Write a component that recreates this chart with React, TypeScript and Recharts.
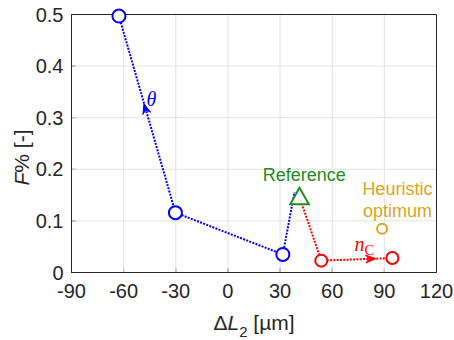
import React from 'react';
import { ScatterChart, Scatter, XAxis, YAxis } from 'recharts';

// ---- data ----
const X_TICKS = [-90, -60, -30, 0, 30, 60, 90, 120];
const Y_TICKS = [0, 0.1, 0.2, 0.3, 0.4, 0.5];
const X_DOMAIN = [-90, 120];
const Y_DOMAIN = [0, 0.5];

const thetaMarkers = [
  { x: -62.7, y: 0.497 },
  { x: -30.2, y: 0.116 },
  { x: 31.6, y: 0.035 },
];
const thetaPath = [
  { x: -62.7, y: 0.497 },
  { x: -30.2, y: 0.116 },
  { x: 31.6, y: 0.035 },
  { x: 38.3, y: 0.156 },
];
const referencePoint = [{ x: 41.2, y: 0.146 }];
const ncMarkers = [
  { x: 53.7, y: 0.023 },
  { x: 94.6, y: 0.028 },
];
const ncPath = [
  { x: 41.2, y: 0.146 },
  { x: 53.7, y: 0.023 },
  { x: 94.6, y: 0.028 },
];
const heuristicPoint = [{ x: 88.7, y: 0.085 }];
const thetaArrow = [
  { x: -30.2, y: 0.116 },
  { x: -48.3, y: 0.327 },
];
const ncArrow = [
  { x: 53.7, y: 0.023 },
  { x: 85.0, y: 0.0268 },
];
const referenceText = [{ x: 43.9, y: 0.19, label: 'Reference' }];
const heuristicText = [
  { x: 97.5, y: 0.163, label: 'Heuristic' },
  { x: 97.5, y: 0.12, label: 'optimum' },
];
const thetaText = [{ x: -44.0, y: 0.337, label: 'θ' }];
const ncText = [{ x: 78.5, y: 0.055, label: 'n', sub: 'C' }];

// grid and frame segments built from the tick arrays / domains
const gridSegments = [
  ...X_TICKS.slice(1, -1).map((t) => [
    { x: t, y: Y_DOMAIN[0] },
    { x: t, y: Y_DOMAIN[1] },
  ]),
  ...Y_TICKS.slice(1, -1).map((t) => [
    { x: X_DOMAIN[0], y: t },
    { x: X_DOMAIN[1], y: t },
  ]),
];
const frameSegments = [
  [
    { x: X_DOMAIN[0], y: Y_DOMAIN[0] },
    { x: X_DOMAIN[0], y: Y_DOMAIN[1] },
  ],
  [
    { x: X_DOMAIN[0], y: Y_DOMAIN[1] },
    { x: X_DOMAIN[1], y: Y_DOMAIN[1] },
  ],
  [
    { x: X_DOMAIN[1], y: Y_DOMAIN[1] },
    { x: X_DOMAIN[1], y: Y_DOMAIN[0] },
  ],
  [
    { x: X_DOMAIN[0], y: Y_DOMAIN[0] },
    { x: X_DOMAIN[1], y: Y_DOMAIN[0] },
  ],
];

// ---- styles ----
const BLUE = '#0000ff';
const RED = '#ff0000';
const GREEN = '#228b22';
const GOLD = '#daa520';
const AXIS = '#262626';
const GRID = '#e3e3e3';
const SANS = 'Liberation Sans, Arial, sans-serif';
const SERIF = 'Liberation Serif, DejaVu Serif, serif';
const DOT = '2 1.3';

const hidden = () => <g />;

const openCircle = (r: number, color: string) => (p: any) => (
  <circle cx={p.cx} cy={p.cy} r={r} fill="#ffffff" stroke={color} strokeWidth={2} />
);

const triangle = (p: any) => (
  <polygon
    points={`${p.cx},${p.cy - 9.5} ${p.cx + 9.3},${p.cy + 7} ${p.cx - 9.3},${p.cy + 7}`}
    fill="#ffffff"
    stroke={GREEN}
    strokeWidth={2}
    strokeLinejoin="miter"
  />
);

const arrowHead = (color: string) => (props: any) => {
  const pts = props.points || [];
  if (pts.length < 2) return <g />;
  const a = pts[0];
  const b = pts[pts.length - 1];
  const dx = b.x - a.x;
  const dy = b.y - a.y;
  const len = Math.hypot(dx, dy) || 1;
  const ux = dx / len;
  const uy = dy / len;
  const nx = -uy;
  const ny = ux;
  const L = 10;
  const W = 4;
  const B = 6.5;
  const d = `M${b.x},${b.y} L${b.x - L * ux + W * nx},${b.y - L * uy + W * ny} L${b.x - B * ux},${
    b.y - B * uy
  } L${b.x - L * ux - W * nx},${b.y - L * uy - W * ny} Z`;
  return <path d={d} fill={color} stroke={color} strokeWidth={1} />;
};

const segment = (color: string, width: number) => (props: any) => {
  const pts = props.points || [];
  if (pts.length < 2) return <g />;
  const a = pts[0];
  const b = pts[pts.length - 1];
  return <path d={`M${a.x},${a.y} L${b.x},${b.y}`} fill="none" stroke={color} strokeWidth={width} />;
};

const textShape = (color: string, size: number, family: string, italic = false) => (p: any) => (
  <text
    x={p.cx}
    y={p.cy}
    dy="0.35em"
    textAnchor="middle"
    fill={color}
    fontSize={size}
    fontFamily={family}
    fontStyle={italic ? 'italic' : 'normal'}
  >
    {p.payload.label}
    {p.payload.sub ? (
      <tspan fontStyle="normal" fontSize={size * 0.72} dy={4}>
        {p.payload.sub}
      </tspan>
    ) : null}
  </text>
);

const XTitle = (props: any) => {
  const vb = props.viewBox;
  const cx = vb.x + vb.width / 2;
  return (
    <text x={cx} y={vb.y + 57.5} textAnchor="middle" fontSize={21} fill={AXIS} fontFamily={SANS}>
      Δ<tspan fontStyle="italic">L</tspan>
      <tspan fontSize={15} dy={7}>2</tspan>
      <tspan dy={-7}> [µm]</tspan>
    </text>
  );
};

const YTitle = (props: any) => {
  const vb = props.viewBox;
  const cy = vb.y + vb.height / 2 + 14;
  const x = 29;
  return (
    <text
      x={x}
      y={cy}
      transform={`rotate(-90 ${x} ${cy})`}
      textAnchor="middle"
      fontSize={21}
      fill={AXIS}
      fontFamily={SANS}
    >
      <tspan fontStyle="italic">F</tspan>% [-]
    </text>
  );
};

export default function App() {
  return (
    <div style={{ position: 'absolute', left: 0, top: 0, width: 454, height: 340, background: '#fff' }}>
      <ScatterChart width={454} height={340} margin={{ top: 14.5, right: 17.5, bottom: 0, left: 0 }}>
        <XAxis
          type="number"
          dataKey="x"
          domain={X_DOMAIN}
          ticks={X_TICKS}
          height={67.5}
          axisLine={{ stroke: AXIS }}
          tickLine={{ stroke: AXIS }}
          tickSize={-4}
          tickMargin={15.5}
          tick={{ fill: AXIS, fontSize: 20, fontFamily: SANS }}
          label={{ content: XTitle }}
        />
        <YAxis
          type="number"
          dataKey="y"
          domain={Y_DOMAIN}
          ticks={Y_TICKS}
          width={71.5}
          axisLine={{ stroke: AXIS }}
          tickLine={{ stroke: AXIS }}
          tickSize={-4}
          tickMargin={12}
          tick={{ fill: AXIS, fontSize: 20, fontFamily: SANS }}
          label={{ content: YTitle }}
        />
        {gridSegments.map((seg, i) => (
          <Scatter
            key={`grid-${i}`}
            data={seg}
            isAnimationActive={false}
            shape={hidden}
            line={segment(GRID, 1)}
            lineType="joint"
          />
        ))}
        {frameSegments.map((seg, i) => (
          <Scatter
            key={`frame-${i}`}
            data={seg}
            isAnimationActive={false}
            shape={hidden}
            line={segment(AXIS, 1)}
            lineType="joint"
          />
        ))}
        <Scatter
          data={thetaPath}
          isAnimationActive={false}
          shape={hidden}
          line={{ stroke: BLUE, strokeWidth: 2, strokeDasharray: DOT }}
          lineType="joint"
        />
        <Scatter
          data={ncPath}
          isAnimationActive={false}
          shape={hidden}
          line={{ stroke: RED, strokeWidth: 2, strokeDasharray: DOT }}
          lineType="joint"
        />
        <Scatter data={thetaArrow} isAnimationActive={false} shape={hidden} line={arrowHead(BLUE)} lineType="joint" />
        <Scatter data={ncArrow} isAnimationActive={false} shape={hidden} line={arrowHead(RED)} lineType="joint" />
        <Scatter data={thetaMarkers} isAnimationActive={false} shape={openCircle(6.5, BLUE)} />
        <Scatter data={ncMarkers} isAnimationActive={false} shape={openCircle(6, RED)} />
        <Scatter data={heuristicPoint} isAnimationActive={false} shape={openCircle(5, GOLD)} />
        <Scatter data={referencePoint} isAnimationActive={false} shape={triangle} />
        <Scatter data={referenceText} isAnimationActive={false} shape={textShape(GREEN, 18, SANS)} />
        <Scatter data={heuristicText} isAnimationActive={false} shape={textShape(GOLD, 18, SANS)} />
        <Scatter data={thetaText} isAnimationActive={false} shape={textShape(BLUE, 20, SERIF, true)} />
        <Scatter data={ncText} isAnimationActive={false} shape={textShape(RED, 20, SERIF, true)} />
      </ScatterChart>
    </div>
  );
}
